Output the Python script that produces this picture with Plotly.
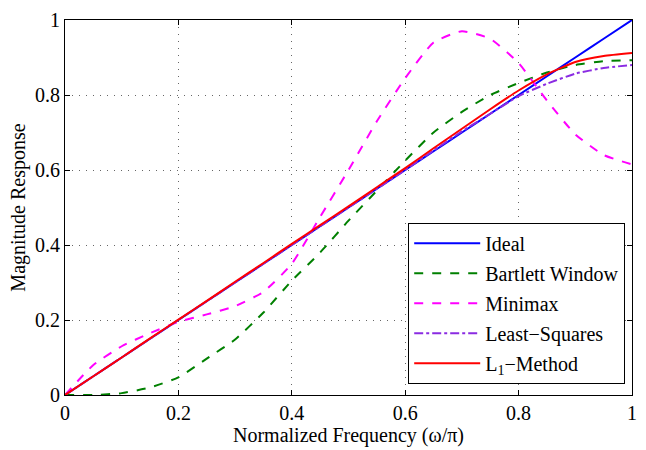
import plotly.graph_objects as go

freq = [0, 0.05, 0.1, 0.15, 0.2, 0.25, 0.3, 0.35, 0.4, 0.45, 0.5, 0.55, 0.6, 0.65, 0.7, 0.75, 0.8, 0.85, 0.9, 0.95, 1.0]
ideal = [0, 0.05, 0.1, 0.15, 0.2, 0.25, 0.3, 0.35, 0.4, 0.45, 0.5, 0.55, 0.6, 0.65, 0.7, 0.75, 0.8, 0.85, 0.9, 0.95, 1.0]
bartlett = [0, 0.0, 0.005, 0.02, 0.047, 0.097, 0.148, 0.22, 0.305, 0.38, 0.465, 0.545, 0.625, 0.7, 0.755, 0.8, 0.832, 0.86, 0.88, 0.89, 0.893]
minimax = [0, 0.08, 0.13, 0.165, 0.195, 0.215, 0.237, 0.275, 0.35, 0.475, 0.6, 0.73, 0.845, 0.94, 0.97, 0.95, 0.885, 0.785, 0.695, 0.64, 0.615]
least_squares = [0, 0.05, 0.1, 0.15, 0.2, 0.25, 0.3, 0.35, 0.4, 0.45, 0.5, 0.55, 0.6, 0.652, 0.703, 0.75, 0.797, 0.83, 0.857, 0.872, 0.88]
l1_method = [0, 0.05, 0.1, 0.151, 0.201, 0.251, 0.302, 0.352, 0.403, 0.453, 0.503, 0.554, 0.605, 0.658, 0.71, 0.762, 0.812, 0.855, 0.888, 0.904, 0.912]

ticks = [0, 0.2, 0.4, 0.6, 0.8, 1]
tick_text = ["0", "0.2", "0.4", "0.6", "0.8", "1"]

series = [
    ("Ideal", ideal, "#0000FF", "solid"),
    ("Bartlett Window", bartlett, "#008000", "dash"),
    ("Minimax", minimax, "#FF00FF", "dash"),
    ("Least\u2212Squares", least_squares, "#8A2BE2", "dashdot"),
    ("L<sub>1</sub>\u2212Method", l1_method, "#FF0000", "solid"),
]

fig = go.Figure()
for i, (name, ys, color, dash) in enumerate(series):
    fig.add_trace(go.Scatter(
        x=freq, y=ys, mode="lines", name=name, legendgroup=str(i),
        line=dict(color=color, width=2, dash=dash, shape="spline", smoothing=0.5),
    ))

font = "Liberation Serif"
axis_common = dict(
    range=[0, 1], tickvals=ticks, ticktext=tick_text,
    showgrid=True, gridcolor="#666666", griddash="1px,6px", gridwidth=1,
    showline=True, linecolor="black", linewidth=1, mirror="allticks",
    ticks="inside", ticklen=5, tickcolor="black",
    zeroline=False, tickfont=dict(family=font, size=20, color="black"),
)

fig.update_layout(
    width=646, height=450,
    margin=dict(l=65, r=9, t=12, b=55),
    paper_bgcolor="white", plot_bgcolor="white",
    font=dict(family=font, color="black"),
    xaxis=dict(**axis_common, title=dict(text="Normalized Frequency (\u03c9/\u03c0)", font=dict(family=font, size=20), standoff=2)),
    yaxis=dict(**axis_common, title=dict(text="Magnitude Response", font=dict(family=font, size=20), standoff=4)),
    legend=dict(
        x=0.988, y=0.03, xanchor="right", yanchor="bottom",
        bordercolor="black", borderwidth=1, bgcolor="white",
        font=dict(family=font, size=20, color="black"),
        tracegroupgap=1, itemwidth=66,
    ),
)

fig.write_html("out.html")
